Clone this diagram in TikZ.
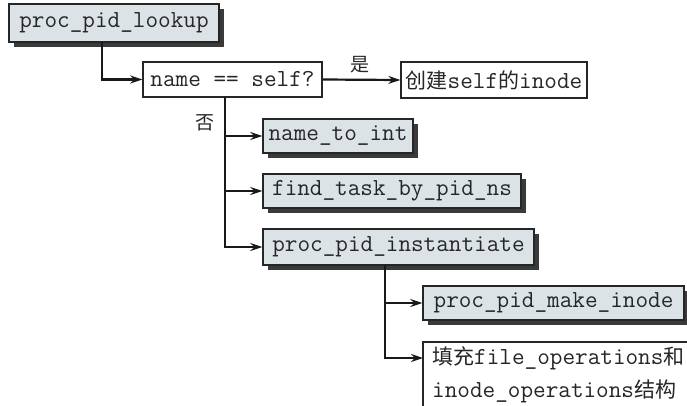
\documentclass[tikz,border=0pt]{standalone}
\usepackage{fontspec}
\newfontfamily\cjk{Noto Sans CJK SC}
\usetikzlibrary{arrows.meta,shadows}
\definecolor{boxfill}{HTML}{DCE3E6}
\definecolor{shadowc}{HTML}{3A3A3A}
\tikzset{
  x=1pt,y=-1pt,
  every node/.style={font=\fontsize{24.5}{34}\selectfont\ttfamily, text=black!85},
  fnbox/.style={draw=black!85, line width=1.4pt, fill=boxfill, inner sep=0pt,
     drop shadow={shadow xshift=5pt, shadow yshift=-5pt, fill=shadowc, opacity=1}},
  plainbox/.style={draw=black!85, line width=1.4pt, fill=white, inner sep=0pt},
  conn/.style={line width=2.2pt, draw=black!90, -{Stealth[length=12pt,width=8pt,inset=4pt]}},
  lbl/.style={font=\fontsize{19}{19}\selectfont\cjk, inner sep=0pt},
  cjks/.style={}
}
\newcommand{\zh}[1]{{\fontsize{21}{21}\selectfont\cjk #1}}
\begin{document}
\begin{tikzpicture}
\useasboundingbox (0,0) rectangle (687,405);
\fill[white] (0,0) rectangle (687,405);
\node[fnbox, minimum width=210pt, minimum height=38pt] (lookup) at (114,23) {proc\_pid\_lookup};
\node[plainbox, minimum width=179pt, minimum height=35pt] (cond) at (232.5,79.5) {name == self?};
\node[plainbox, minimum width=186pt, minimum height=36pt] (self) at (494,80) {\zh{创建}self\zh{的}inode};
\node[fnbox, minimum width=150pt, minimum height=34pt] (nti) at (338,136) {name\_to\_int};
\node[fnbox, minimum width=258pt, minimum height=34pt] (find) at (392,191) {find\_task\_by\_pid\_ns};
\node[fnbox, minimum width=271pt, minimum height=36pt] (inst) at (398.5,247) {proc\_pid\_instantiate};
\node[fnbox, minimum width=261pt, minimum height=34pt] (make) at (553.5,303) {proc\_pid\_make\_inode};
\draw[draw=black!85, line width=1.4pt, fill=white] (698,420) -- (423,420) -- (423,342) -- (698,342);
\node[anchor=west, inner sep=0pt] (fill1) at (432,358) {\zh{填充}file\_operations\zh{和}};
\node[anchor=west, inner sep=0pt] (fill2) at (432,391) {inode\_operations\zh{结构}};
\coordinate (fillin) at (423,358);
\coordinate (c1) at (102,42);
\coordinate (c2) at (225,97);
\coordinate (c3) at (385,265);
\draw[conn] (c1) |- (cond.west);
\draw[conn] (cond.east) -- node[lbl, above=6pt, pos=0.48] (yes) {是} (self.west);
\draw[conn] (c2) |- (nti.west);
\draw[conn] (c2) |- (find.west);
\draw[conn] (c2) |- (inst.west);
\node[lbl] (no) at (205,123) {否};
\draw[conn] (c3) |- (make.west);
\draw[conn] (c3) |- (fillin);
\end{tikzpicture}
\end{document}
